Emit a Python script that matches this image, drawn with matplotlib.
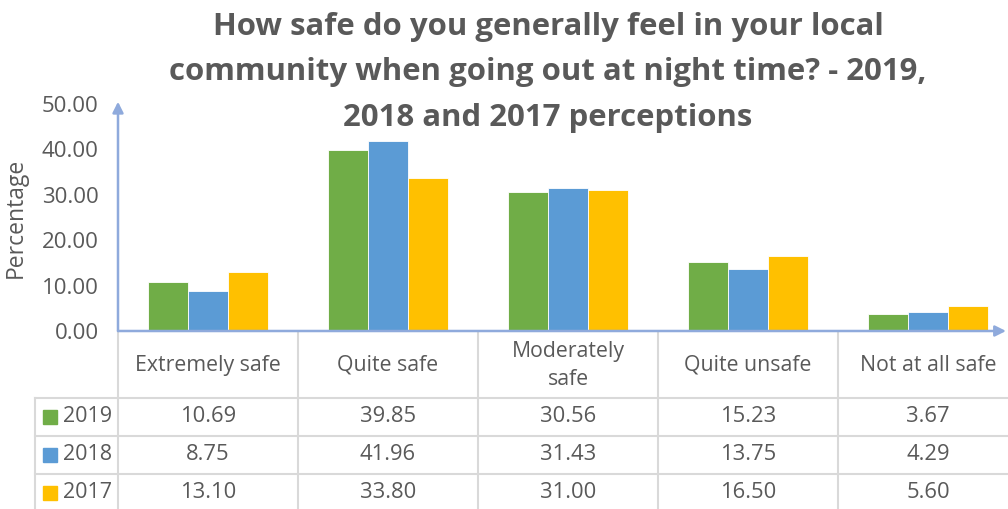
import matplotlib.pyplot as plt
import numpy as np

plt.rcParams['font.family'] = ['Open Sans', 'DejaVu Sans']

categories = ['Extremely safe', 'Quite safe', 'Moderately\nsafe', 'Quite unsafe', 'Not at all safe']
years = ['2019', '2018', '2017']
v2019 = [10.69, 39.85, 30.56, 15.23, 3.67]
v2018 = [8.75, 41.96, 31.43, 13.75, 4.29]
v2017 = [13.10, 33.80, 31.00, 16.50, 5.60]
series = [v2019, v2018, v2017]
colors = ['#70AD47', '#5B9BD5', '#FFC000']

TXT = '#595959'
GRID = '#D9D9D9'
AXC = '#8FAADC'

W, H = 1008, 509
fig = plt.figure(figsize=(W / 100, H / 100), dpi=100)

# plot area in pixels (top-left origin)
x0, x1 = 118, 1018
y0, y50 = 331, 104
ax = fig.add_axes([x0 / W, (H - y0) / H, (x1 - x0) / W, (y0 - y50) / H])
ax.set_xlim(-0.5, 4.5)
ax.set_ylim(0, 50)

x = np.arange(len(categories))
bw = 40 / 180
for i, (vals, c) in enumerate(zip(series, colors)):
    ax.bar(x + (i - 1) * bw, vals, width=bw, color=c, edgecolor='white', linewidth=0.6, zorder=3)

for s in ax.spines.values():
    s.set_visible(False)
ax.set_xticks([])
ax.set_yticks(np.arange(0, 51, 10))
ax.set_yticklabels([f'{v:.2f}' for v in np.arange(0, 51, 10)])
ax.tick_params(axis='y', length=0, pad=14, labelsize=16, labelcolor=TXT)
ax.set_ylabel('Percentage', fontsize=16.5, color=TXT)
ax.yaxis.set_label_coords(-90 / (x1 - x0), 0.5)

# axis arrows
x_end = (1006 - x0) / 180 - 0.5
ax.annotate('', xy=(-0.5, 50.5), xytext=(-0.5, 0), annotation_clip=False,
            arrowprops=dict(arrowstyle='-|>', color=AXC, lw=1.8, mutation_scale=16, shrinkA=0, shrinkB=0))
ax.annotate('', xy=(x_end, 0), xytext=(-0.5, 0), annotation_clip=False,
            arrowprops=dict(arrowstyle='-|>', color=AXC, lw=1.8, mutation_scale=16, shrinkA=0, shrinkB=0))

# data table below
def ay(ypix):
    return (y0 - ypix) / (y0 - y50)

tr = ax.get_xaxis_transform()
row_edges = [333, 398, 436, 474, 512]
lab_left = -0.5 + (35 - x0) / 180
for b in [-0.5, 0.5, 1.5, 2.5, 3.5, 4.5]:
    ax.plot([b, b], [ay(333), ay(515)], color=GRID, lw=1.5, transform=tr, clip_on=False)
ax.plot([lab_left, lab_left], [ay(398), ay(515)], color=GRID, lw=1.5, transform=tr, clip_on=False)
for e in row_edges[1:4]:
    ax.plot([lab_left, 4.6], [ay(e), ay(e)], color=GRID, lw=1.5, transform=tr, clip_on=False)

for i, cat in enumerate(categories):
    ax.text(i, ay((row_edges[0] + row_edges[1]) / 2), cat, ha='center', va='center',
            fontsize=15.3, color=TXT, transform=tr, linespacing=1.4)

for r, (yr, vals, c) in enumerate(zip(years, series, colors)):
    yc = ay((row_edges[r + 1] + row_edges[r + 2]) / 2)
    for i, v in enumerate(vals):
        ax.text(i, yc, f'{v:.2f}', ha='center', va='center', fontsize=15.8, color=TXT, transform=tr)
    ax.plot([-0.5 + (50 - x0) / 180], [yc], marker='s', ms=10, color=c, transform=tr, clip_on=False)
    ax.text(-0.5 + (63 - x0) / 180, yc, yr, ha='left', va='center', fontsize=15.5, color=TXT, transform=tr)

# title
title_lines = ['How safe do you generally feel in your local',
               'community when going out at night time? - 2019,',
               '2018 and 2017 perceptions']
for ln, yp in zip(title_lines, [27, 72, 118]):
    fig.text(548 / W, 1 - yp / H, ln, ha='center', va='center', fontsize=22.4,
             fontweight='bold', color=TXT)

fig.savefig('out.png', dpi=100)
